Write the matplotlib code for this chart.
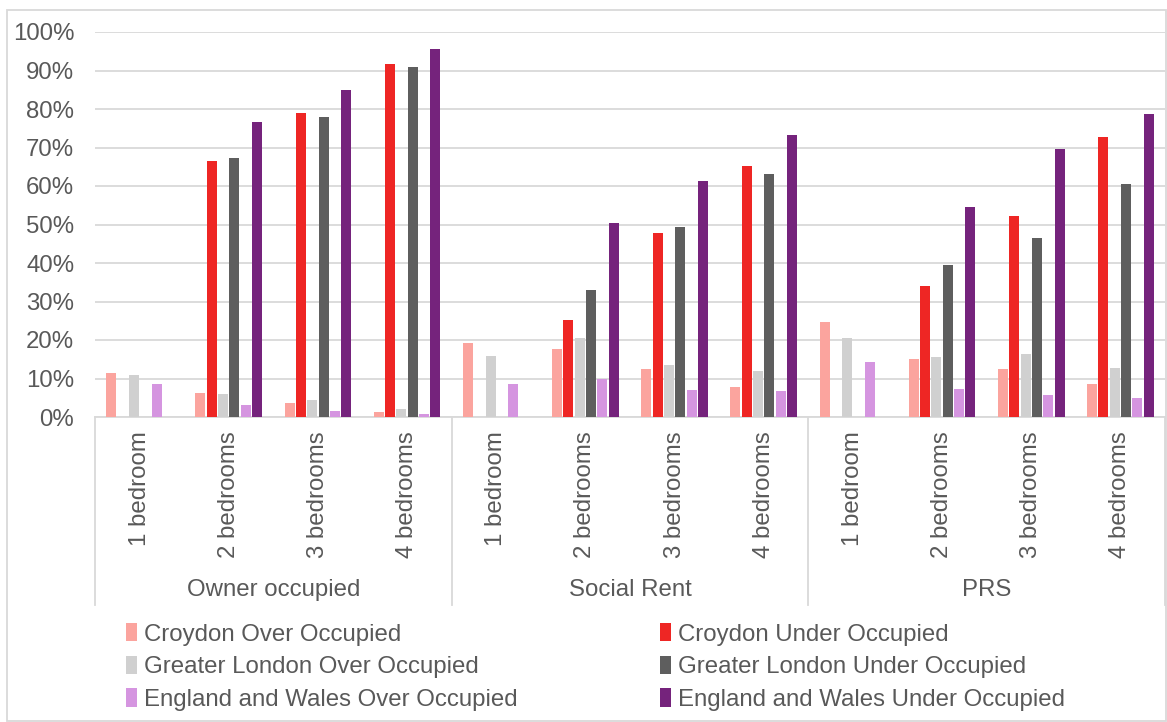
import numpy as np
import matplotlib
matplotlib.use("Agg")
import matplotlib.pyplot as plt
import matplotlib.transforms as mtransforms
from matplotlib.patches import Rectangle
from matplotlib.ticker import PercentFormatter

# ── Data ────────────────────────────────────────────────────────────────
tenures  = ["Owner occupied", "Social Rent", "PRS"]
bedrooms = ["1 bedroom", "2 bedrooms", "3 bedrooms", "4 bedrooms"]

series = ["Croydon Over Occupied", "Croydon Under Occupied",
          "Greater London Over Occupied", "Greater London Under Occupied",
          "England and Wales Over Occupied", "England and Wales Under Occupied"]

# values in %, 12 categories (tenure x bedrooms); None = no bar
croydon_over  = [11.3, 6.3, 3.6, 1.3,   19.3, 17.6, 12.4, 7.7,   24.7, 15.0, 12.4, 8.7]
croydon_under = [None, 66.6, 78.9, 91.6, None, 25.3, 47.7, 65.3, None, 34.0, 52.2, 72.7]
london_over   = [11.0, 6.0, 4.3, 2.0,   15.9, 20.6, 13.6, 12.0,  20.6, 15.7, 16.3, 12.6]
london_under  = [None, 67.3, 77.9, 90.9, None, 33.0, 49.3, 63.0, None, 39.4, 46.6, 60.6]
ew_over       = [8.5, 3.0, 1.6, 0.7,    8.7, 9.8, 7.0, 6.7,      14.4, 7.4, 5.6, 5.0]
ew_under      = [None, 76.6, 84.9, 95.6, None, 50.3, 61.2, 73.3, None, 54.6, 69.6, 78.6]

values = [croydon_over, croydon_under, london_over, london_under, ew_over, ew_under]
colors = ["#fba49e", "#ee2624", "#d0d0d0", "#5e5e5e", "#d595e0", "#75237c"]

TXT = "#595959"
GRID = "#d9d9d9"
plt.rcParams["font.family"] = ["Liberation Sans", "DejaVu Sans"]
FS = 17.3

W, H = 1167, 722
fig = plt.figure(figsize=(W / 100, H / 100), dpi=100)

def fx(px):
    return px / W

def fy(py):
    return 1 - py / H

ax = fig.add_axes([fx(95), fy(417), fx(1165) - fx(95), fy(32) - fy(417)])

n_cat = len(tenures) * len(bedrooms)
x = np.arange(n_cat)
step = 0.127
width = 0.113
for i, (vals, col, name) in enumerate(zip(values, colors, series)):
    v = np.array([np.nan if a is None else a for a in vals], dtype=float)
    ax.bar(x + (i - 2.5) * step, v, width, color=col, label=name, zorder=3)

ax.set_xlim(-0.5, n_cat - 0.5)
ax.set_ylim(0, 100)
ax.set_yticks(np.arange(0, 101, 10))
ax.yaxis.set_major_formatter(PercentFormatter(decimals=0))
ax.tick_params(axis="y", length=0, labelsize=FS, labelcolor=TXT, pad=15)
ax.set_xticks([])
ax.grid(axis="y", color=GRID, linewidth=1.3, zorder=0)
for s in ["top", "right", "left"]:
    ax.spines[s].set_visible(False)
ax.spines["bottom"].set_color(GRID)
ax.spines["bottom"].set_linewidth(1.3)

# ── Multi-level category axis ───────────────────────────────────────────
tr = mtransforms.blended_transform_factory(ax.transData, fig.transFigure)
nb = len(bedrooms)
for g, ten in enumerate(tenures):
    for b, bed in enumerate(bedrooms):
        ax.text(g * nb + b, fy(431), bed, transform=tr, rotation=90,
                ha="center", va="top", fontsize=FS, color=TXT)
    ax.text(g * nb + (nb - 1) / 2, fy(590), ten, transform=tr,
            ha="center", va="center", fontsize=FS, color=TXT)
for k in range(len(tenures) + 1):
    xs = k * nb - 0.5
    fig.add_artist(plt.Line2D([xs, xs], [fy(417), fy(605)], transform=tr,
                              color=GRID, linewidth=1.3))

# outer chart border
fig.add_artist(Rectangle((fx(7), fy(721)), fx(1166) - fx(7), fy(10) - fy(721),
                         transform=fig.transFigure, fill=False,
                         edgecolor=GRID, linewidth=1.3))

# ── Legend: two columns ─────────────────────────────────────────────────
handles, labels = ax.get_legend_handles_labels()
for cols, xpx in [([0, 2, 4], 126), ([1, 3, 5], 660)]:
    leg = fig.legend([handles[c] for c in cols], [labels[c] for c in cols],
                     loc="upper left", bbox_to_anchor=(fx(xpx), fy(623)),
                     frameon=False, fontsize=FS, labelcolor=TXT,
                     handlelength=0.45, handleheight=0.8, handletextpad=0.3,
                     labelspacing=0.42, borderpad=0, borderaxespad=0)

fig.savefig("out.png", dpi=100)
